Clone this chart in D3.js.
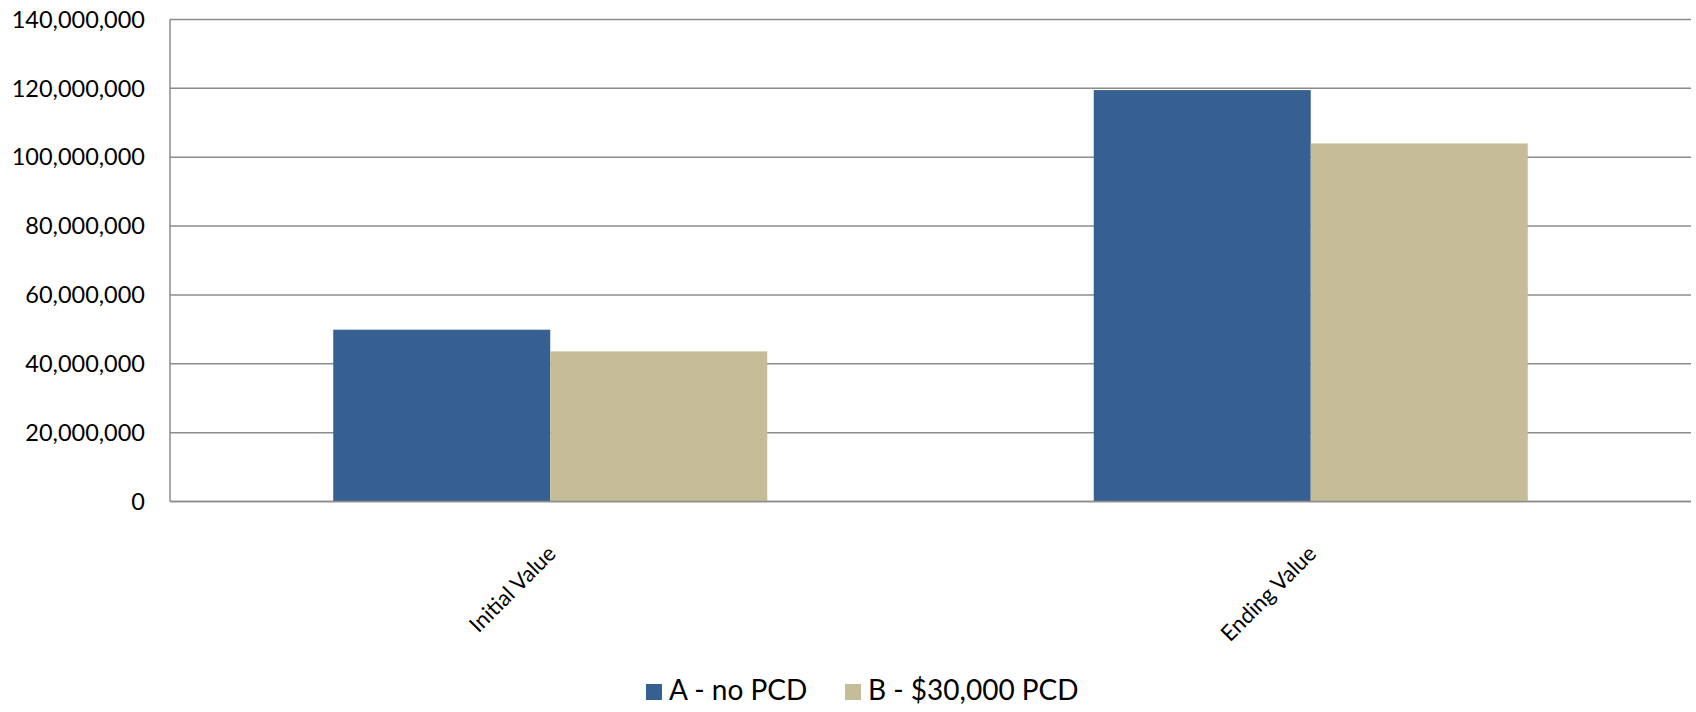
<!DOCTYPE html>
<html>
<head>
<meta charset="utf-8">
<script src="https://cdn.jsdelivr.net/npm/d3@7"></script>
<style>
  body { margin: 0; background: #fff; }
  svg text { font-family: Lato, "Open Sans", sans-serif; fill: #000; }
</style>
</head>
<body>
<div id="chart"></div>
<script>
let categories = ["Initial Value", "Ending Value"];
let seriesNames = ["A - no PCD", "B - $30,000 PCD"];
let seriesA = [49900000, 119500000];
let seriesB = [43600000, 104000000];
let yTicks = [0, 20000000, 40000000, 60000000, 80000000, 100000000, 120000000, 140000000];
let colors = ["#366092", "#C4BD97"];

let width = 1696, height = 712;
let margin = {left: 170, right: 5, top: 19.5, bottom: 210};

let svg = d3.select("#chart").append("svg")
  .attr("width", width)
  .attr("height", height);

let y = d3.scaleLinear()
  .domain([0, 140000000])
  .range([501.5, margin.top]);

let x0 = d3.scaleBand()
  .domain(categories)
  .range([margin.left, 1691])
  .paddingInner(0.4293)
  .paddingOuter(0.4293 / 2);

let x1 = d3.scaleBand()
  .domain(seriesNames)
  .range([0, x0.bandwidth()]);

// gridlines
svg.append("g")
  .selectAll("line")
  .data(yTicks)
  .enter()
  .append("line")
  .attr("x1", margin.left)
  .attr("x2", 1691)
  .attr("y1", d => y(d))
  .attr("y2", d => y(d))
  .attr("stroke", "#8c8c8c")
  .attr("stroke-width", 1.5);

// y axis labels
let fmt = d3.format(",");
svg.append("g")
  .selectAll("text")
  .data(yTicks)
  .enter()
  .append("text")
  .attr("x", 145)
  .attr("y", d => y(d))
  .attr("dy", "0.35em")
  .attr("text-anchor", "end")
  .style("font-size", "23.5px")
  .text(d => fmt(d));

// bars
let rows = categories.map((c, i) => ({cat: c, vals: [seriesA[i], seriesB[i]]}));
let groups = svg.append("g")
  .selectAll("g")
  .data(rows)
  .enter()
  .append("g")
  .attr("transform", d => "translate(" + x0(d.cat) + ",0)");

groups.selectAll("rect")
  .data(d => d.vals.map((v, j) => ({name: seriesNames[j], v: v, j: j})))
  .enter()
  .append("rect")
  .attr("x", d => x1(d.name))
  .attr("width", x1.bandwidth())
  .attr("y", d => y(d.v))
  .attr("height", d => y(0) - y(d.v))
  .attr("fill", d => colors[d.j]);

// axis lines
svg.append("line")
  .attr("x1", margin.left).attr("x2", margin.left)
  .attr("y1", margin.top).attr("y2", y(0))
  .attr("stroke", "#8c8c8c").attr("stroke-width", 1.5);
svg.append("line")
  .attr("x1", margin.left).attr("x2", 1691)
  .attr("y1", y(0)).attr("y2", y(0))
  .attr("stroke", "#8c8c8c").attr("stroke-width", 1.5);

// category labels, rotated
svg.append("g")
  .selectAll("text")
  .data(categories)
  .enter()
  .append("text")
  .attr("text-anchor", "end")
  .attr("transform", d => "translate(" + (x0(d) + x0.bandwidth() / 2 + 7) + ",555) rotate(-45)")
  .style("font-size", "22px")
  .text(d => d);

// legend
let legend = svg.append("g");
let legendX = [646, 845];
seriesNames.forEach((s, i) => {
  legend.append("rect")
    .attr("x", legendX[i]).attr("y", 684)
    .attr("width", 16).attr("height", 16)
    .attr("fill", colors[i]);
  legend.append("text")
    .attr("x", legendX[i] + 23).attr("y", 700)
    .style("font-size", "28px")
    .text(s);
});
</script>
</body>
</html>
